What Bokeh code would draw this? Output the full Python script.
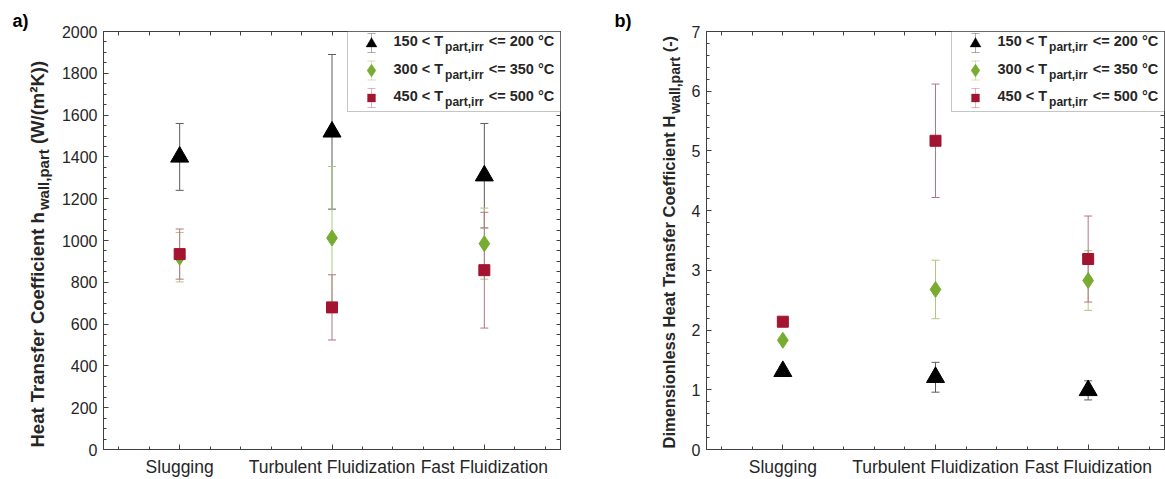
import math
from bokeh.plotting import figure
from bokeh.models import (Range1d, FixedTicker, LinearAxis, ColumnDataSource, Whisker, TeeHead,
                          Label, BoxAnnotation, PolyAnnotation)
from bokeh.layouts import row
from bokeh.embed import file_html
from bokeh.resources import INLINE

# ---------------- data ----------------
categories = ["Slugging", "Turbulent Fluidization", "Fast Fluidization"]
t_low = [150, 300, 450]
t_high = [200, 350, 500]

# a) heat transfer coefficient h_wall,part  (W/(m2K))
h_150 = [1400, 1520, 1310]
h_150_err = [160, 370, 250]
h_300 = [920, 1012, 985]
h_300_err = [118, 342, 170]
h_450 = [935, 680, 858]
h_450_err = [120, 156, 277]

# b) dimensionless heat transfer coefficient H_wall,part (-)
H_150 = [1.31, 1.21, 0.99]
H_150_err = [0.0, 0.25, 0.16]
H_300 = [1.83, 2.68, 2.83]
H_300_err = [0.0, 0.49, 0.50]
H_450 = [2.14, 5.17, 3.19]
H_450_err = [0.0, 0.95, 0.72]

left_ticks = [0, 200, 400, 600, 800, 1000, 1200, 1400, 1600, 1800, 2000]
right_ticks = [0, 1, 2, 3, 4, 5, 6, 7]

# ---------------- styles ----------------
FONT = "Liberation Sans"
AX = "#404040"
TXT = "#262626"
marker_colors = ["#000000", "#77ac30", "#a2142f"]
err_colors = ["#5c5c5c", "#b0c77f", "#b27684"]
marker_types = ["triangle", "diamond", "square"]
marker_sizes = [18, 16, 11]

W_BOLD = {' ': 278, '(': 333, ')': 333, ',': 278, '-': 333, '/': 278, '<': 584, '=': 584,
          '°': 400, '²': 333, 'A': 722, 'C': 722, 'D': 722, 'F': 611, 'H': 722, 'K': 722,
          'T': 611, 'W': 944, 'a': 556, 'b': 611, 'c': 556, 'd': 611, 'e': 556, 'f': 333,
          'g': 611, 'h': 611, 'i': 278, 'l': 278, 'm': 889, 'n': 611, 'o': 611, 'p': 611,
          'r': 389, 's': 556, 't': 333, 'u': 611, 'w': 778, 'z': 500}

FRAME_TOP = 31      # canvas pixel of the frame top
FRAME_BOTTOM = 449  # canvas pixel of the frame bottom
FH = FRAME_BOTTOM - FRAME_TOP


def tw(s, size):
    return sum(W_BOLD.get(c, 556) for c in s) / 1000.0 * size


def lab(p, text, x, y, size, angle=0.0, bold=True, align="left", baseline="middle", color=TXT):
    p.add_layout(Label(x=x, y=y, x_units="screen", y_units="screen", text=text, angle=angle,
                       text_font=FONT, text_font_size=f"{size}px",
                       text_font_style="bold" if bold else "normal",
                       text_align=align, text_baseline=baseline, text_color=color))


def style_axis(ax):
    ax.major_tick_in = 5
    ax.major_tick_out = 0
    ax.minor_tick_in = 3
    ax.minor_tick_out = 0
    ax.axis_line_color = AX
    ax.major_tick_line_color = AX
    ax.minor_tick_line_color = AX
    ax.major_label_text_font = FONT
    ax.major_label_text_color = TXT


def make_fig(width, bl, br, y_end, majors, minor_step):
    p = figure(width=width, height=479, x_range=Range1d(0.5, 3.5), y_range=Range1d(0, y_end),
               output_backend="svg", toolbar_location=None,
               min_border_left=bl, min_border_right=br, min_border_top=FRAME_TOP,
               min_border_bottom=479 - FRAME_BOTTOM,
               x_axis_type=None, y_axis_type=None)
    p.xgrid.visible = False
    p.ygrid.visible = False
    p.outline_line_color = AX
    p.background_fill_color = "white"
    p.border_fill_color = "white"
    xs = list(range(1, len(categories) + 1))
    x_minor = [round(0.6 + 0.2 * i, 2) for i in range(15)]
    x_minor = [v for v in x_minor if v not in xs]
    n_minor = int(round((majors[1] - majors[0]) / minor_step))
    y_minor = [majors[0] + minor_step * k for k in range(n_minor * (len(majors) - 1) + 1)]
    y_minor = [v for v in y_minor if all(abs(v - m) > 1e-9 for m in majors)]

    ax = LinearAxis(ticker=FixedTicker(ticks=xs, minor_ticks=x_minor))
    ax.major_label_overrides = {i + 1: c for i, c in enumerate(categories)}
    style_axis(ax)
    ax.major_label_text_font_size = "17.5px"
    ax.major_label_standoff = 7
    p.add_layout(ax, "below")

    ay = LinearAxis(ticker=FixedTicker(ticks=majors, minor_ticks=y_minor))
    style_axis(ay)
    ay.major_label_text_font_size = "16px"
    ay.major_label_standoff = 6
    p.add_layout(ay, "left")

    # mirrored tick marks (no labels) on top and right
    top = LinearAxis(ticker=FixedTicker(ticks=[], minor_ticks=sorted(xs + x_minor)))
    style_axis(top)
    top.minor_tick_in = 4
    top.major_label_standoff = 0
    p.add_layout(top, "above")
    rgt = LinearAxis(ticker=FixedTicker(ticks=[], minor_ticks=sorted(majors + y_minor)))
    style_axis(rgt)
    rgt.minor_tick_in = 4
    rgt.major_label_standoff = 0
    p.add_layout(rgt, "right")
    return p, xs


def add_series(p, xs, vals, errs, i):
    src = ColumnDataSource(dict(x=xs, y=vals,
                                upper=[v + e for v, e in zip(vals, errs)],
                                lower=[v - e for v, e in zip(vals, errs)]))
    w = Whisker(source=src, base="x", upper="upper", lower="lower", dimension="height",
                line_color=err_colors[i], line_width=1,
                upper_head=TeeHead(size=8, line_color=err_colors[i], line_width=1),
                lower_head=TeeHead(size=8, line_color=err_colors[i], line_width=1))
    w.level = "underlay"
    p.add_layout(w)
    p.scatter("x", "y", source=src, marker=marker_types[i], size=marker_sizes[i],
              fill_color=marker_colors[i], line_color=marker_colors[i])


def add_legend(p, frame_w, frame_h):
    bw, bh = 213, 80
    left = frame_w - bw
    bottom = frame_h - bh
    p.add_layout(BoxAnnotation(left=left, right=frame_w, bottom=bottom, top=frame_h,
                               left_units="screen", right_units="screen",
                               bottom_units="screen", top_units="screen",
                               fill_color="white", fill_alpha=1.0,
                               line_color=AX, line_width=1, level="annotation"))
    for i in range(3):
        cy = frame_h - (9.5 + 27.5 * i)
        mx = left + 24
        my = cy - 2
        t, b = my + 9.5, my - 9.5
        p.add_layout(PolyAnnotation(xs=[mx - 4, mx + 4, mx, mx, mx - 4, mx + 4, mx, mx],
                                    ys=[t, t, t, b, b, b, b, t],
                                    xs_units="screen", ys_units="screen",
                                    fill_color=None, line_color=err_colors[i], line_width=1))
        if marker_types[i] == "triangle":
            pxs, pys = [mx - 5.5, mx + 5.5, mx], [my - 4, my - 4, my + 5.5]
        elif marker_types[i] == "diamond":
            pxs, pys = [mx, mx + 4.5, mx, mx - 4.5], [my + 6.5, my, my - 6.5, my]
        else:
            pxs, pys = [mx - 4, mx + 4, mx + 4, mx - 4], [my - 4, my - 4, my + 4, my + 4]
        p.add_layout(PolyAnnotation(xs=pxs, ys=pys, xs_units="screen", ys_units="screen",
                                    fill_color=marker_colors[i], fill_alpha=1.0,
                                    line_color=marker_colors[i], line_width=1))
        s1 = f"{t_low[i]} < T"
        s2 = "part,irr"
        s3 = f"<= {t_high[i]} °C"
        x0 = left + 46
        lab(p, s1, x0, cy, 14.5)
        x1 = x0 + tw(s1, 14.5) + 2
        lab(p, s2, x1, cy - 6, 12)
        x2 = x1 + tw(s2, 12) + 5
        lab(p, s3, x2, cy, 14.5)


def label_fig(width, parts, cx, bottom_px, size, sub_size, panel, px):
    # the frame of this figure is aligned by the row with the plots' frames
    f = figure(width=width, height=479, x_range=Range1d(0, 1), y_range=Range1d(0, 1),
               output_backend="svg", toolbar_location=None, min_border=0, title=panel,
               x_axis_type=None, y_axis_type=None)
    f.title.align = "left"
    f.title.offset = px
    f.title.standoff = 2
    f.title.text_font = FONT
    f.title.text_font_size = "18px"
    f.title.text_font_style = "bold"
    f.title.text_color = "#000000"
    f.xgrid.visible = False
    f.ygrid.visible = False
    f.outline_line_color = None
    f.background_fill_color = "white"
    f.border_fill_color = "white"
    ang = math.pi / 2
    y0 = FRAME_BOTTOM - bottom_px
    w1 = tw(parts[0], size)
    w2 = tw(parts[1], sub_size)
    lab(f, parts[0], cx, y0, size, angle=ang)
    lab(f, parts[1], cx + 6, y0 + w1 + 1, sub_size, angle=ang)
    lab(f, parts[2], cx, y0 + w1 + w2 + 1 + 0.278 * size, size, angle=ang)
    return f


# ---------- left panel ----------
l1 = label_fig(56, ["Heat Transfer Coefficient h", "wall,part", "(W/(m²K))"], 37, 447, 18.5, 15, "a)", 12)
p1, xs = make_fig(544, 47, 40, 2000, left_ticks, 50)
add_series(p1, xs, h_150, h_150_err, 0)
add_series(p1, xs, h_300, h_300_err, 1)
add_series(p1, xs, h_450, h_450_err, 2)
add_legend(p1, 457, FH)

# ---------- right panel ----------
l2 = label_fig(86, ["Dimensionless Heat Transfer Coefficient H", "wall,part", "(-)"], 68, 448, 16.5, 14, "b)", 14)
p2, xs = make_fig(479, 20, 1, 7, right_ticks, 0.2)
add_series(p2, xs, H_150, H_150_err, 0)
add_series(p2, xs, H_300, H_300_err, 1)
add_series(p2, xs, H_450, H_450_err, 2)
add_legend(p2, 458, FH)

layout = row(l1, p1, l2, p2)
open("out.html", "w").write(file_html(layout, INLINE))
